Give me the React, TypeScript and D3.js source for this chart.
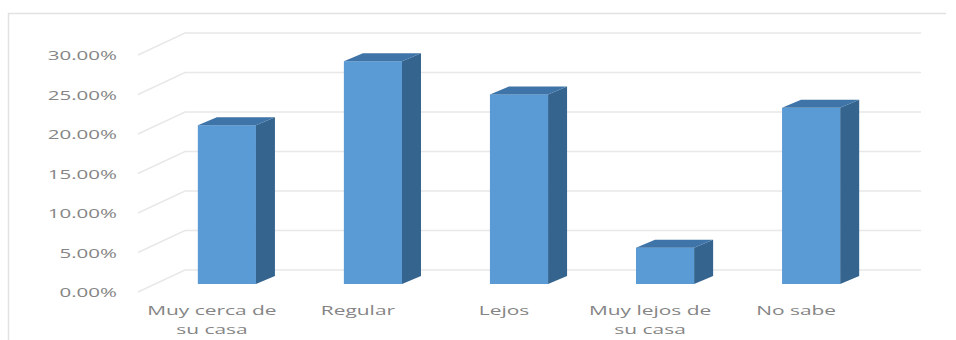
import React from "react";
import * as d3 from "d3";

const categories = [["Muy cerca de", "su casa"], ["Regular"], ["Lejos"], ["Muy lejos de", "su casa"], ["No sabe"]];
const values = [20.1, 28.2, 24.0, 4.6, 22.3];
const tickValues = [0, 5, 10, 15, 20, 25, 30];

const W = 956;
const H = 340;
const depthX = 19;
const depthY = 8;
const font = "'Open Sans', sans-serif";
// Labels are set wide, with a horizontal stretch on the glyphs.
const tickStretch = 1.52;
const categoryStretch = 1.55;

export default function App() {
  // Front plane of the 3D plot: bars stand on y(0) and project back by the depth offset.
  const y = d3.scaleLinear().domain([0, 30]).range([284, 47]);
  const x = d3.scaleBand<number>().domain(d3.range(5)).range([154, 884]).paddingInner(0.602).paddingOuter(0.3);
  const wallDx = 47;
  const wallTop = (v: number) => y(v) - 14;

  return (
    <svg width={W} height={H} style={{ position: "absolute", left: 0, top: 0 }}>
      <rect width={W} height={H} fill="#fff" />
      <path d="M8.5 340V13.5H946" fill="none" stroke="#e2e2e2" strokeWidth={1.5} />
      {tickValues.map((t) => {
        const y0 = wallTop(t);
        return (
          <g key={t}>
            <path
              d={`M138 ${y0 + 22}L${138 + wallDx} ${y0}H921`}
              fill="none"
              stroke="#e8e8e8"
              strokeWidth={1.5}
            />
            <text
              transform={`translate(117 ${y0 + 27}) scale(${tickStretch} 1)`}
              textAnchor="end"
              fontFamily={font}
              fontSize={13.5}
              fill="#858585"
            >
              {t.toFixed(2)}%
            </text>
          </g>
        );
      })}
      {values.map((v, i) => {
        const bx = x(i)!;
        const bw = x.bandwidth();
        const top = y(v);
        const bottom = y(0);
        return (
          <g key={i}>
            <rect x={bx} y={top} width={bw} height={bottom - top} fill="#5b9bd5" />
            <path
              d={`M${bx + bw} ${top}l${depthX} ${-depthY}V${bottom - depthY}L${bx + bw} ${bottom}Z`}
              fill="#35658f"
            />
            <path
              d={`M${bx} ${top}l${depthX} ${-depthY}h${bw}l${-depthX} ${depthY}Z`}
              fill="#3f74a8"
            />
            {categories[i].map((line, k) => (
              <text
                key={k}
                transform={`translate(${bx + bw / 2 - 15} ${315 + k * 19}) scale(${categoryStretch} 1)`}
                textAnchor="middle"
                fontFamily={font}
                fontSize={13.5}
                fill="#858585"
              >
                {line}
              </text>
            ))}
          </g>
        );
      })}
    </svg>
  );
}
